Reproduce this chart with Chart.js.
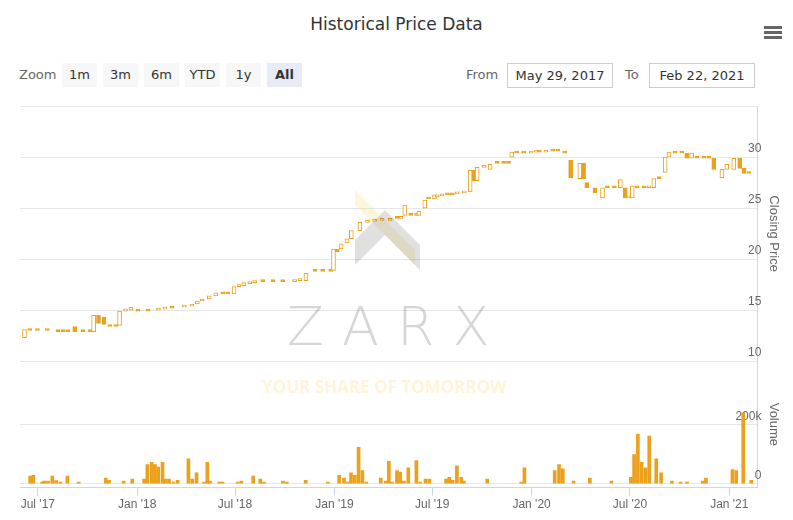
<!DOCTYPE html>
<html>
<head>
<meta charset="utf-8">
<script src="https://cdn.jsdelivr.net/npm/chart.js@4"></script>
<style>
  body { margin: 0; background: #fff; font-family: "Lucida Grande", "DejaVu Sans", Arial, sans-serif; }
  #wrap { position: relative; width: 793px; height: 520px; overflow: hidden; }
  .t { position: absolute; color: #666; font-size: 13px; }
  .btn { position: absolute; top: 63px; height: 24px; line-height: 24px; width: 35px; text-align: center; background: #f7f7f7; color: #333; font-size: 13px; }
  .box { position: absolute; top: 63px; height: 23px; line-height: 23px; border: 1px solid #ccc; color: #333; font-size: 13px; text-align: center; }
  #title { position: absolute; top: 14px; width: 793px; text-align: center; font-size: 17px; color: #333; }
  canvas { position: absolute; left: 0; top: 95px; }
  .wm { position: absolute; pointer-events: none; }
</style>
</head>
<body>
<div id="wrap">
  <div id="title">Historical Price Data</div>
  <svg style="position:absolute;left:763px;top:25px" width="20" height="16">
    <rect x="1" y="1" width="18" height="3" fill="#666"/><rect x="1" y="6" width="18" height="3" fill="#666"/><rect x="1" y="11" width="18" height="3" fill="#666"/>
  </svg>
  <div class="t" style="left:19px;top:67px">Zoom</div>
  <div class="btn" style="left:62px">1m</div>
  <div class="btn" style="left:103px">3m</div>
  <div class="btn" style="left:144px">6m</div>
  <div class="btn" style="left:185px">YTD</div>
  <div class="btn" style="left:226px">1y</div>
  <div class="btn" style="left:267px;background:#e6ebf5;font-weight:bold">All</div>
  <div class="t" style="left:466px;top:67px">From</div>
  <div class="box" style="left:507px;width:104px">May 29, 2017</div>
  <div class="t" style="left:625px;top:67px">To</div>
  <div class="box" style="left:649px;width:104px">Feb 22, 2021</div>
  <canvas id="c" width="793" height="425"></canvas>
  <svg class="wm" style="left:340px;top:190px" width="90" height="90">
    <polygon points="15,0 75,60 75,75 15,15" fill="rgba(255,200,80,0.18)"/>
    <polygon points="15,50 45,20 80,55 80,80 45,45 15,75" fill="rgba(0,0,0,0.12)"/>
  </svg>
  <div class="wm" style="left:287px;top:295px;font-size:54px;letter-spacing:18px;color:rgba(0,0,0,0.16);font-family:'DejaVu Sans';font-weight:300">ZARX</div>
  <div class="wm" style="left:262px;top:375px;font-size:17px;font-weight:bold;color:rgba(255,200,60,0.2);font-family:'Open Sans'">YOUR SHARE OF TOMORROW</div>
</div>
<script>
const priceDates = ['2017-05-29','2017-06-10','2017-06-20','2017-07-04','2017-07-22','2017-08-11','2017-08-20','2017-08-29','2017-09-11','2017-09-26',
  '2017-10-10','2017-10-16','2017-10-25','2017-11-04','2017-11-15','2017-11-26','2017-12-03','2017-12-14','2017-12-24','2018-01-06',
  '2018-01-25','2018-02-13','2018-02-25','2018-03-10','2018-04-02','2018-04-16','2018-04-26','2018-05-05','2018-05-18','2018-05-30',
  '2018-06-12','2018-06-21','2018-07-03','2018-07-12','2018-07-21','2018-08-01','2018-08-10','2018-08-25','2018-09-13','2018-10-01',
  '2018-10-23','2018-11-02','2018-11-13','2018-11-30','2018-12-14','2018-12-29','2019-01-03','2019-01-10','2019-01-17','2019-01-28',
  '2019-02-05','2019-02-21','2019-03-07','2019-03-20','2019-04-03','2019-04-18','2019-05-01','2019-05-08','2019-05-15','2019-05-26',
  '2019-06-06','2019-06-10','2019-06-21','2019-06-28','2019-07-09','2019-07-14','2019-07-23','2019-08-02','2019-08-11','2019-08-20',
  '2019-09-02','2019-09-13','2019-09-20','2019-09-26','2019-10-09','2019-10-20','2019-11-02','2019-11-14','2019-11-23','2019-11-29',
  '2019-12-08','2019-12-21','2020-01-04','2020-01-13','2020-01-19','2020-01-31','2020-02-13','2020-02-22','2020-03-06','2020-03-17',
  '2020-04-03','2020-04-10','2020-04-16','2020-05-01','2020-05-15','2020-05-24','2020-06-06','2020-06-17','2020-06-26','2020-07-02',
  '2020-07-09','2020-07-18','2020-07-31','2020-08-09','2020-08-18','2020-08-28','2020-09-08','2020-09-15','2020-09-26','2020-10-09',
  '2020-10-18','2020-10-27','2020-11-06','2020-11-19','2020-11-28','2020-12-07','2020-12-22','2020-12-31','2021-01-13','2021-01-24',
  '2021-02-01','2021-02-10'];
const priceOpen = [12.3,12.3,13.1,13.1,13.0,12.9,12.9,12.9,13.4,12.9,
  12.9,12.9,14.5,14.3,13.4,13.4,13.5,14.9,15.0,15.1,
  14.9,15.0,15.1,15.2,15.3,15.4,15.6,15.9,16.1,16.4,
  16.6,16.6,16.6,17.3,17.4,17.6,17.7,17.8,17.8,17.8,
  17.8,17.9,17.9,18.8,18.8,18.8,18.9,21.0,21.0,21.6,
  22.0,22.8,23.6,23.7,23.8,23.8,24.1,24.0,24.3,24.5,
  24.3,24.3,25.0,25.9,25.9,26.1,26.2,26.3,26.4,26.4,
  26.5,26.6,28.7,27.7,29.0,28.8,29.4,29.4,29.4,30.0,
  30.4,30.4,30.4,30.5,30.7,30.5,30.7,30.6,30.4,29.7,
  27.9,29.4,27.5,27.0,26.0,27.0,27.0,27.0,27.0,26.0,
  26.0,27.0,27.0,27.0,27.0,27.9,28.5,30.0,30.4,30.4,
  30.4,29.9,29.9,29.9,29.9,29.9,28.0,28.8,28.8,29.9,
  28.9,28.4];
const priceClose = [12.3,13.1,13.0,13.0,13.0,12.9,12.9,12.9,12.9,12.9,
  12.9,14.5,13.7,13.6,13.4,13.4,14.9,15.0,15.3,14.9,
  14.9,15.1,15.3,15.2,15.4,15.5,15.9,16.0,16.4,16.7,
  16.6,16.6,17.3,17.4,17.7,17.7,17.8,17.8,17.8,17.8,
  17.9,18.0,18.6,18.8,18.8,18.8,21.0,20.7,21.5,22.0,
  22.8,23.6,23.7,23.8,23.9,24.0,24.0,24.2,25.3,24.3,
  24.3,24.7,25.8,25.9,26.3,26.3,26.3,26.3,26.3,26.5,
  26.6,28.7,27.7,29.0,29.1,29.3,29.4,29.4,29.4,30.5,
  30.4,30.4,30.5,30.7,30.5,30.7,30.6,30.6,30.4,28.0,
  29.4,27.9,27.0,26.5,27.0,27.0,27.0,27.8,26.0,26.2,
  27.2,27.0,27.0,27.1,27.9,27.9,30.0,30.5,30.4,30.4,
  29.9,30.4,29.9,29.9,29.9,28.8,28.8,29.3,29.9,28.9,
  28.4,28.4];
// volume: days after 1 Jul 2017, shares traded
const volumeDays = [-17,-11,5,9,16,24,31,39,52,73,123,129,156,172,194,200,208,214,220,228,233,240,248,256,276,283,291,305,311,316,
  333,339,367,374,396,409,416,451,458,493,534,555,564,571,577,584,591,598,605,632,641,647,653,662,668,675,683,698,705,715,
  722,753,759,765,773,781,786,829,892,898,954,962,969,989,1019,1059,1095,1101,1108,1115,1122,1129,1142,1151,1171,1187,1199,1228,1234,1283,
  1290,1303,1318];
const volumeValues = [26e3,29e3,6e3,9e3,9e3,26e3,11e3,6e3,26e3,6e3,19e3,12e3,9e3,16e3,16e3,65e3,73e3,65e3,57e3,73e3,16e3,16e3,6e3,12e3,85e3,16e3,37e3,6e3,73e3,9e3,
  6e3,6e3,6e3,9e3,26e3,16e3,6e3,9e3,6e3,12e3,6e3,29e3,19e3,6e3,37e3,29e3,124e3,45e3,6e3,19e3,9e3,76e3,6e3,45e3,40e3,9e3,54e3,79e3,6e3,16e3,
  16e3,16e3,22e3,12e3,61e3,22e3,9e3,16e3,6e3,54e3,45e3,65e3,51e3,9e3,19e3,9e3,22e3,99e3,169e3,73e3,54e3,162e3,85e3,37e3,9e3,6e3,6e3,9e3,19e3,48e3,
  45e3,241e3,12e3];
const tickDays = [0,184,365,549,730,914,1096,1280];
const tickLabels = ["Jul '17","Jan '18","Jul '18","Jan '19","Jul '19","Jan '20","Jul '20","Jan '21"];

const ORANGE = '#eba11b';
const DAY0 = Date.UTC(2017,6,1);
const toDay = s => { const p = s.split('-'); return (Date.UTC(+p[0], p[1]-1, +p[2]) - DAY0) / 86400000; };

const candles = priceDates.map((d,i) => ({x: toDay(d), y: [priceOpen[i], priceClose[i]]}));
const up = priceDates.map((d,i) => priceClose[i] > priceOpen[i]);
const vols = volumeDays.map((d,i) => ({x: d, y: volumeValues[i]}));

new Chart(document.getElementById('c'), {
  type: 'bar',
  data: {
    datasets: [{
      label: 'Closing Price',
      data: candles,
      yAxisID: 'yP',
      barThickness: 4,
      minBarLength: 2,
      borderWidth: 1,
      borderSkipped: false,
      borderColor: ORANGE,
      backgroundColor: ctx => up[ctx.dataIndex] ? '#fff' : ORANGE
    }, {
      label: 'Volume',
      data: vols,
      yAxisID: 'yV',
      barThickness: 3,
      backgroundColor: ORANGE
    }]
  },
  options: {
    responsive: false,
    animation: false,
    layout: { padding: { left: 20, top: 6, right: 8, bottom: 6 } },
    plugins: { legend: { display: false }, tooltip: { enabled: false } },
    scales: {
      x: {
        type: 'linear', min: -33, max: 1332, offset: false,
        afterBuildTicks: a => { a.ticks = tickDays.map(v => ({value: v})); },
        ticks: { callback: (v, i) => tickLabels[i], color: '#666', font: { size: 12 }, maxRotation: 0, padding: 2 },
        grid: { offset: false, drawOnChartArea: false, color: '#ccd6eb', tickLength: 8 },
        border: { color: '#ccd6eb' }
      },
      yP: {
        position: 'right', stack: 's', stackWeight: 256, min: 10, max: 35,
        afterBuildTicks: a => { a.ticks = [10,15,20,25,30,35].map(v => ({value: v})); },
        ticks: { mirror: true, padding: 4, labelOffset: -8, color: '#666', font: { size: 12 }, callback: v => v === 35 ? '' : v },
        grid: { color: '#e6e6e6', drawTicks: false },
        border: { color: '#ccd6eb' },
        title: { display: true, text: 'Closing Price', color: '#666', font: { size: 13 }, padding: { top: 4, bottom: 0 } }
      },
      yV: {
        position: 'right', stack: 's', stackWeight: 127, min: -13000, max: 417000,
        afterBuildTicks: a => { a.ticks = [0, 200000].map(v => ({value: v})); },
        ticks: { mirror: true, padding: 4, labelOffset: -8, color: '#666', font: { size: 12 }, callback: v => v === 0 ? '0' : (v/1000) + 'k' },
        grid: { color: '#e6e6e6', drawTicks: false },
        border: { color: '#ccd6eb' },
        title: { display: true, text: 'Volume', color: '#666', font: { size: 13 }, padding: { top: 4, bottom: 0 } }
      }
    }
  }
});
</script>
</body>
</html>
